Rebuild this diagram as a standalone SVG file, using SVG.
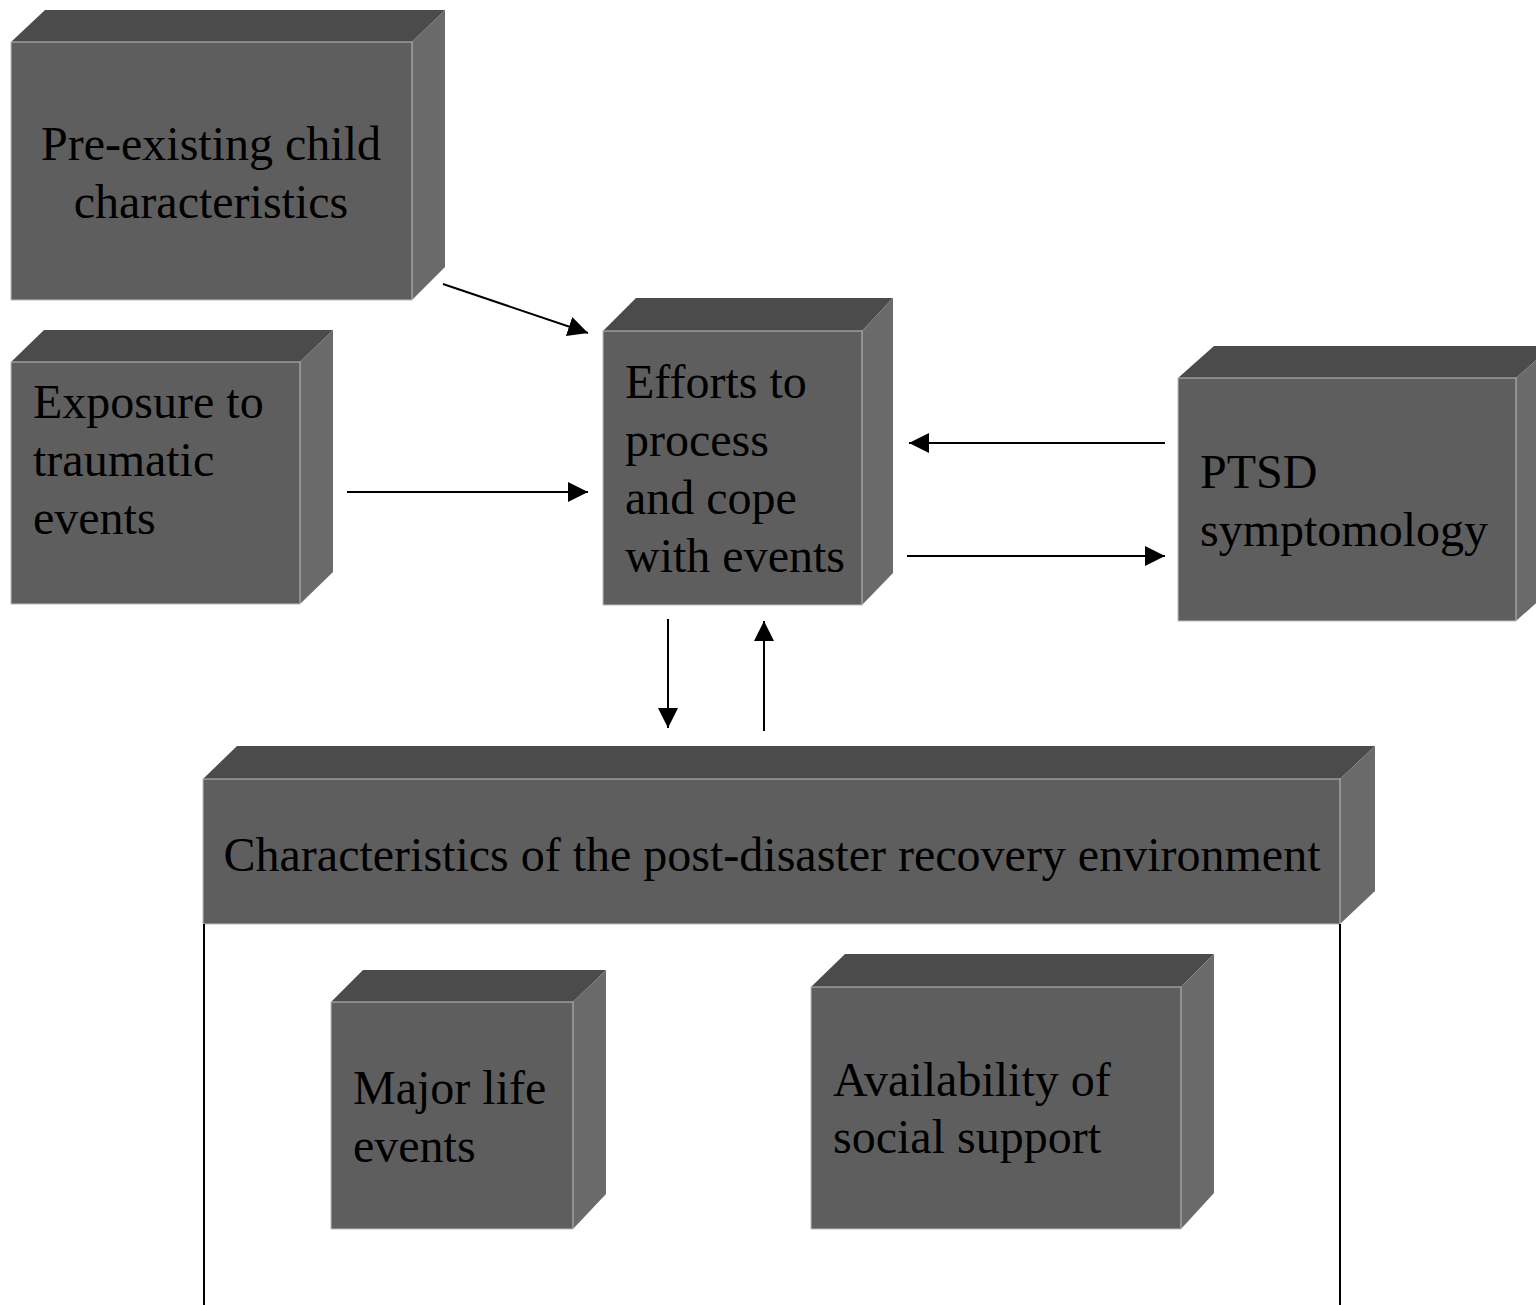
<svg xmlns="http://www.w3.org/2000/svg" width="1536" height="1305" viewBox="0 0 1536 1305">
<defs>
<style>
.front{fill:#5e5e5e;stroke:#bdbdbd;stroke-width:1}
.top{fill:#4b4b4b}
.side{fill:#6a6a6a}
.lbl{font-family:"Liberation Serif","Times New Roman",serif;font-size:48px;fill:#000}
.conn{stroke:#000;stroke-width:2;fill:none}
</style>
<marker id="ah" viewBox="0 0 20 20" refX="20" refY="10" markerWidth="20" markerHeight="20" markerUnits="userSpaceOnUse" orient="auto">
<path d="M0,0 L20,10 L0,20 Z" fill="#000"/>
</marker>
</defs>
<rect width="1536" height="1305" fill="#fff"/>

<g id="node-preexisting">
<polygon class="top" points="11,42 45,10 445,10 412,42"/>
<polygon class="side" points="412,42 445,10 445,267 412,300"/>
<rect class="front" x="11" y="42" width="401" height="258"/>
<text class="lbl" x="211" y="160" text-anchor="middle">Pre-existing child</text>
<text class="lbl" x="211" y="218" text-anchor="middle">characteristics</text>
</g>

<g id="node-exposure">
<polygon class="top" points="11,362 44,330 333,330 300,362"/>
<polygon class="side" points="300,362 333,330 333,572 300,604"/>
<rect class="front" x="11" y="362" width="289" height="242"/>
<text class="lbl" x="33" y="418">Exposure to</text>
<text class="lbl" x="33" y="476">traumatic</text>
<text class="lbl" x="33" y="534">events</text>
</g>

<g id="node-efforts">
<polygon class="top" points="603,331 636,298 893,298 862,331"/>
<polygon class="side" points="862,331 893,298 893,573 862,605"/>
<rect class="front" x="603" y="331" width="259" height="274"/>
<text class="lbl" x="625" y="398">Efforts to</text>
<text class="lbl" x="625" y="456">process</text>
<text class="lbl" x="625" y="514">and cope</text>
<text class="lbl" x="625" y="572">with events</text>
</g>

<g id="node-ptsd">
<polygon class="top" points="1178,378 1214,346 1552,346 1516,378"/>
<polygon class="side" points="1516,378 1552,346 1552,589 1516,621"/>
<rect class="front" x="1178" y="378" width="338" height="243"/>
<text class="lbl" x="1200" y="488">PTSD</text>
<text class="lbl" x="1200" y="546">symptomology</text>
</g>

<g id="node-environment">
<polygon class="top" points="203,779 237,746 1375,746 1340,779"/>
<polygon class="side" points="1340,779 1375,746 1375,891 1340,924"/>
<rect class="front" x="203" y="779" width="1137" height="145"/>
<text class="lbl" x="772" y="871" text-anchor="middle">Characteristics of the post-disaster recovery environment</text>
</g>

<g id="node-major">
<polygon class="top" points="331,1002 363,970 606,970 573,1002"/>
<polygon class="side" points="573,1002 606,970 606,1194 573,1229"/>
<rect class="front" x="331" y="1002" width="242" height="227"/>
<text class="lbl" x="353" y="1104">Major life</text>
<text class="lbl" x="353" y="1162">events</text>
</g>

<g id="node-social">
<polygon class="top" points="811,987 845,954 1214,954 1181,987"/>
<polygon class="side" points="1181,987 1214,954 1214,1193 1181,1229"/>
<rect class="front" x="811" y="987" width="370" height="242"/>
<text class="lbl" x="833" y="1096">Availability of</text>
<text class="lbl" x="833" y="1153">social support</text>
</g>

<g id="connectors">
<line class="conn" x1="443" y1="284" x2="588" y2="333" marker-end="url(#ah)"/>
<line class="conn" x1="347" y1="492" x2="588" y2="492" marker-end="url(#ah)"/>
<line class="conn" x1="1165" y1="443" x2="909" y2="443" marker-end="url(#ah)"/>
<line class="conn" x1="907" y1="556" x2="1165" y2="556" marker-end="url(#ah)"/>
<line class="conn" x1="668" y1="619" x2="668" y2="728" marker-end="url(#ah)"/>
<line class="conn" x1="764" y1="731" x2="764" y2="621" marker-end="url(#ah)"/>
<line class="conn" x1="204" y1="924" x2="204" y2="1305"/>
<line class="conn" x1="1340" y1="924" x2="1340" y2="1305"/>
</g>
</svg>
